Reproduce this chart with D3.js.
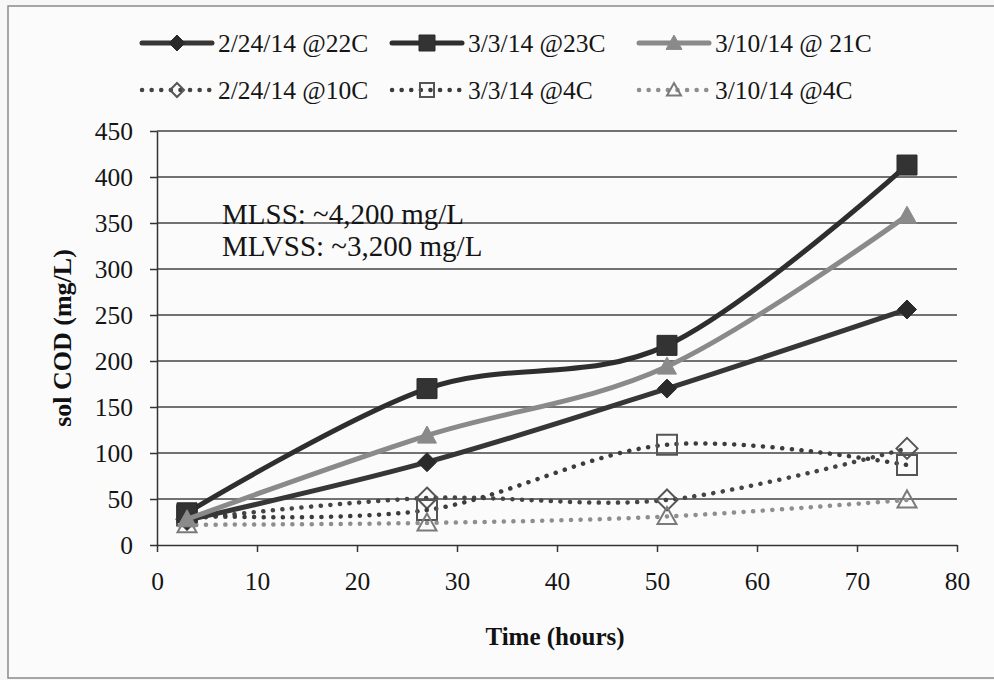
<!DOCTYPE html>
<html>
<head>
<meta charset="utf-8">
<script src="https://cdn.jsdelivr.net/npm/d3@7"></script>
<style>
  body { margin: 0; background: #f7f7f7; }
  svg { display: block; font-family: "Liberation Serif", "Times New Roman", serif; }
</style>
</head>
<body>
<svg id="chart" width="994" height="680"></svg>
<script>
// sampling times (hours)
const hours = [3, 27, 51, 75];
const seriesNames = ["2/24/14 @22C", "3/3/14 @23C", "3/10/14 @ 21C",
                     "2/24/14 @10C", "3/3/14 @4C", "3/10/14 @4C"];
// sol COD (mg/L)
const feb24warm = [27, 90, 170, 256];
const mar3warm = [35, 170, 217, 413];
const mar10warm = [28, 119, 194, 358];
const feb24cold = [28, 51, 49, 105];
const mar3cold = [32, 38, 109, 87];
const mar10cold = [22, 24, 31, 49];
const xTicks = [0, 10, 20, 30, 40, 50, 60, 70, 80];
const yTicks = [0, 50, 100, 150, 200, 250, 300, 350, 400, 450];
const noteLines = ["MLSS: ~4,200 mg/L", "MLVSS: ~3,200 mg/L"];

const seriesValues = [feb24warm, mar3warm, mar10warm, feb24cold, mar3cold, mar10cold];

// look of each series
const styles = [
  {line: "#363636", dotted: false, shape: "diamond", fill: "#2a2a2a", stroke: "#2a2a2a", size: 19},
  {line: "#2e2e2e", dotted: false, shape: "square", fill: "#333", stroke: "#2a2a2a", size: 20},
  {line: "#8a8a8a", dotted: false, shape: "triangle", fill: "#8a8a8a", stroke: "#8a8a8a", size: 19},
  {line: "#444", dotted: true, shape: "diamond", fill: "none", stroke: "#555", size: 21},
  {line: "#3c3c3c", dotted: true, shape: "square", fill: "none", stroke: "#555", size: 20},
  {line: "#8e8e8e", dotted: true, shape: "triangle", fill: "none", stroke: "#7a7a7a", size: 19}
];

const svg = d3.select("#chart");

// outer frame
svg.append("rect")
  .attr("x", 8).attr("y", 6)
  .attr("width", 1000).attr("height", 672)
  .attr("fill", "#fbfbfb")
  .attr("stroke", "#8a8a8a")
  .attr("stroke-width", 1.5);

let x = d3.scaleLinear().domain([0, 80]).range([157, 957]);
let y = d3.scaleLinear().domain([0, 450]).range([545, 131]);

// marker shapes, r = full width
function shapePath(shape, r) {
  let h = r / 2;
  if (shape == "diamond") return `M0,${-h}L${h},0L0,${h}L${-h},0Z`;
  if (shape == "square") return `M${-h},${-h}H${h}V${h}H${-h}Z`;
  return `M0,${-h}L${h},${h * 0.8}L${-h},${h * 0.8}Z`;
}

// horizontal gridlines
svg.append("g").selectAll("line")
  .data(yTicks.filter(d => d > 0))
  .enter().append("line")
  .attr("x1", x(0)).attr("x2", x(80))
  .attr("y1", d => y(d)).attr("y2", d => y(d))
  .attr("stroke", "#444").attr("stroke-width", 1.5);

// axes
let xAxis = svg.append("g")
  .attr("transform", `translate(0,${y(0)})`)
  .call(d3.axisBottom(x).tickValues(xTicks).tickSize(7).tickSizeOuter(0).tickPadding(20));
let yAxis = svg.append("g")
  .attr("transform", `translate(${x(0)},0)`)
  .call(d3.axisLeft(y).tickValues(yTicks).tickSize(7).tickSizeOuter(0).tickPadding(17));

[xAxis, yAxis].forEach(a => {
  a.select(".domain").attr("stroke", "#333").attr("stroke-width", 1.5);
  a.selectAll(".tick line").attr("stroke", "#333").attr("stroke-width", 1.5);
  a.selectAll(".tick text")
    .attr("font-family", "Liberation Serif")
    .attr("font-size", 25.5)
    .attr("fill", "#151515");
});

// axis titles
svg.append("text")
  .attr("x", 555).attr("y", 645)
  .attr("text-anchor", "middle")
  .attr("font-size", 25).attr("font-weight", "bold").attr("fill", "#111")
  .text("Time (hours)");
svg.append("text")
  .attr("transform", `translate(71,${(y(0) + y(450)) / 2}) rotate(-90)`)
  .attr("text-anchor", "middle")
  .attr("font-size", 26).attr("font-weight", "bold").attr("fill", "#111")
  .text("sol COD (mg/L)");

// note
svg.append("g").selectAll("text")
  .data(noteLines)
  .enter().append("text")
  .attr("x", 222).attr("y", (d, i) => 224 + i * 32)
  .attr("font-size", 29).attr("fill", "#151515")
  .text(d => d);

let line = d3.line()
  .x(d => x(d[0]))
  .y(d => y(d[1]))
  .curve(d3.curveCardinal.tension(0));

function strokeStyle(sel, st) {
  sel.attr("fill", "none")
    .attr("stroke", st.line)
    .attr("stroke-width", st.dotted ? 4.5 : 5)
    .attr("stroke-linecap", "round");
  if (st.dotted) sel.attr("stroke-dasharray", "0.1 9.5");
}

// draw dotted series first, solid ones on top
let order = [3, 4, 5, 0, 1, 2];
order.forEach(i => {
  let st = styles[i];
  let pts = hours.map((h, j) => [h, seriesValues[i][j]]);
  let g = svg.append("g");
  g.append("path").attr("d", line(pts)).call(strokeStyle, st);
  g.selectAll("path.mk")
    .data(pts)
    .enter().append("path")
    .attr("class", "mk")
    .attr("transform", d => `translate(${x(d[0])},${y(d[1])})`)
    .attr("d", shapePath(st.shape, st.size))
    .attr("fill", st.fill)
    .attr("stroke", st.stroke)
    .attr("stroke-width", st.fill == "none" ? 2 : 1);
});

// legend
const legendX = [140, 390, 637];
const legendY = [43, 90];
seriesNames.forEach((name, i) => {
  let st = styles[i];
  let lx = legendX[i % 3];
  let ly = legendY[Math.floor(i / 3)];
  let g = svg.append("g").attr("transform", `translate(${lx},${ly})`);
  g.append("line")
    .attr("x1", 2).attr("x2", 72)
    .attr("y1", 0).attr("y2", 0)
    .call(strokeStyle, st);
  g.append("path")
    .attr("transform", "translate(37,0)")
    .attr("d", shapePath(st.shape, st.dotted ? 14 : 16))
    .attr("fill", st.fill == "none" ? "none" : st.fill)
    .attr("stroke", st.stroke)
    .attr("stroke-width", st.fill == "none" ? 2 : 1);
  g.append("text")
    .attr("x", 78).attr("y", 9)
    .attr("font-size", 25.5).attr("fill", "#151515")
    .text(name);
});
</script>
</body>
</html>
